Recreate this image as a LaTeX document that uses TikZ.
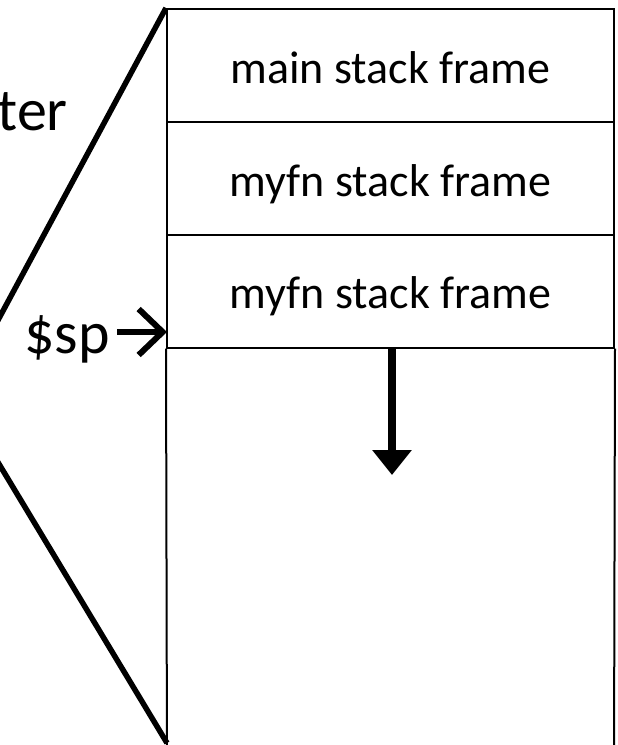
\documentclass[tikz,border=0pt]{standalone}
\usepackage{fontspec}
\setmainfont{Carlito}
\usetikzlibrary{arrows.meta}

\begin{document}
\begin{tikzpicture}[x=1pt,y=-1pt,
  framebox/.style={draw, line width=2pt, minimum width=447pt, minimum height=113pt,
    inner sep=0pt, text height=35pt, text depth=0pt,
    font=\fontsize{46}{50}\selectfont},
  biglabel/.style={inner sep=0pt, font=\fontsize{60}{66}\selectfont},
  zoomline/.style={line width=5.5pt},
  sparrow/.style={line width=6pt, -{Straight Barb[length=24pt, width=46pt, line width=6pt]}},
  growarrow/.style={line width=8pt, -{Triangle[length=25pt, width=38pt]}}]

\useasboundingbox (0,0) rectangle (618,745);

% stack frames
\node[framebox] (f1) at (390.5,65.5) {main stack frame};
\node[framebox] (f2) at (390.5,178.5) {myfn stack frame};
\node[framebox] (f3) at (390.5,291) {myfn stack frame};

% unused stack space below the frames
\draw[line width=2pt] (f3.south west) -- (167,770);
\draw[line width=2pt] (f3.south east) -- (614,770);

% growth direction
\coordinate (growtop) at (392,348);
\coordinate (growend) at (392,475);
\draw[growarrow] (growtop) -- (growend);

% zoom lines to the overview
\coordinate (zoomupper) at (-10,335);
\coordinate (zoomlower) at (-10,449);
\coordinate (stackbottom) at (167,743);
\draw[zoomline] (zoomupper) -- (f1.north west);
\draw[zoomline] (zoomlower) -- (stackbottom);

% labels
\node[biglabel, anchor=base east] (reg) at (68,130) {ter};
\node[biglabel, anchor=base east] (sp) at (110,353) {\$sp};
\coordinate (sptail) at (117,332);
\coordinate (sptip) at (167,332);
\draw[sparrow] (sptail) -- (sptip);

\end{tikzpicture}
\end{document}
